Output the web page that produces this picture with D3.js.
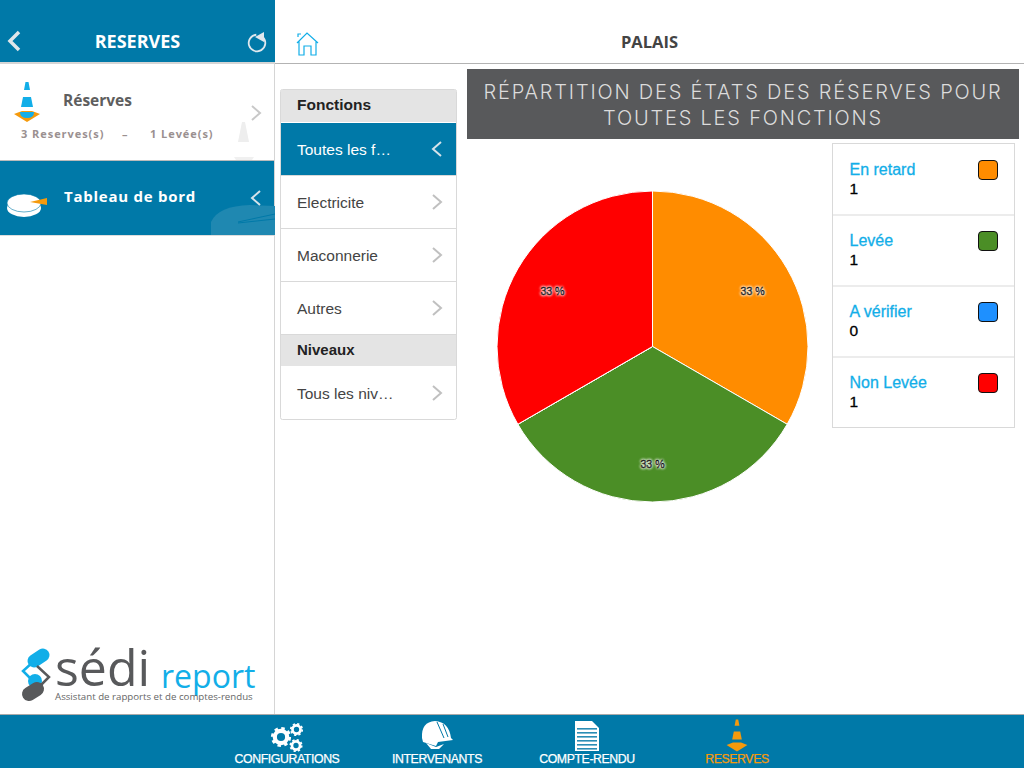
<!DOCTYPE html>
<html>
<head>
<meta charset="utf-8">
<script src="https://cdn.jsdelivr.net/npm/d3@7"></script>
<style>
body { margin: 0; background: #fff; }
svg { display: block; }
text { font-family: "Liberation Sans", sans-serif; }
.app { font-family: "Open Sans", sans-serif; }
</style>
</head>
<body>
<script>
var w = 1024, h = 768;

// chart values
var states = ["En retard", "Levée", "A vérifier", "Non Levée"];
var counts = [1, 1, 0, 1];
var colors = ["#ff8c00", "#4b8e26", "#1e90ff", "#ff0000"];

var functionItems = ["Toutes les f…", "Electricite", "Maconnerie", "Autres"];
var levelItems = ["Tous les niv…"];
var navLabels = ["CONFIGURATIONS", "INTERVENANTS", "COMPTE-RENDU", "RESERVES"];
var titleLines = ["RÉPARTITION DES ÉTATS DES RÉSERVES POUR", "TOUTES LES FONCTIONS"];

var blue = "#0079a8", cyan = "#12aee8", line = "#d9d9d9", orange = "#f59a0c";

var svg = d3.select("body")
    .append("svg")
    .attr("width", w)
    .attr("height", h);

function rect(x, y, rw, rh, fill) {
    return svg.append("rect").attr("x", x).attr("y", y)
        .attr("width", rw).attr("height", rh).style("fill", fill);
}

function label(str, x, y, size, fill, weight, anchor) {
    return svg.append("text").text(str).attr("x", x).attr("y", y)
        .style("font-size", size + "px").style("fill", fill)
        .style("font-weight", weight || "normal")
        .style("text-anchor", anchor || "start");
}

function chevron(x, y, dir, color, sw) {
    svg.append("path")
        .attr("d", "M" + (x - dir * 4) + "," + (y - 7) + "L" + (x + dir * 4) + "," + y + "L" + (x - dir * 4) + "," + (y + 7))
        .style("fill", "none").style("stroke", color).style("stroke-width", sw || 2);
}

function cone(g, c1, c2, c3) {
    g.append("path").attr("d", "M-13,0L-5,-3L5,-3L13,0L0,8Z").style("fill", c3);
    g.append("path").attr("d", "M-1.5,-32L1.5,-32L3,-24L-3,-24Z").style("fill", c1);
    g.append("path").attr("d", "M-4,-17L4,-17L6,-7L-6,-7Z").style("fill", c1);
    g.append("path").attr("d", "M-7,-2L7,-2Q7,4 0,4Q-7,4 -7,-2Z").style("fill", c2);
}

// sidebar
rect(0, 0, 275, 62, blue);
rect(0, 62, 275, 2, "#d5d5d5");
rect(0, 160, 275, 1, "#bbb");
rect(0, 161, 275, 74, blue);
rect(0, 235, 275, 1, "#ddd");
rect(274, 64, 1, 650, "#d5d5d5");
rect(275, 63, 749, 1, "#b3b3b3");

svg.append("path").attr("d", "M19,32L10,41L19,50").style("fill", "none").style("stroke", "#e0e6ea").style("stroke-width", 3.5);
label("RESERVES", 137.5, 48, 18, "#fff", "bold", "middle").attr("class", "app");
svg.append("path").attr("d", d3.arc()({innerRadius: 7.4, outerRadius: 9.2, startAngle: 0.8, endAngle: 6.2}))
    .attr("transform", "translate(257,43)").style("fill", "#dfe8ee");
svg.append("path").attr("d", "M255,37L264,32L264,42Z").style("fill", "#dfe8ee");

var sideCone = svg.append("g").attr("transform", "translate(27,114)");
cone(sideCone, cyan, cyan, orange);
svg.append("path").attr("d", "M238,142L242,122L245,122L249,142Z").style("fill", "#eee");
svg.append("path").attr("d", "M234,157L254,157L252,160L236,160Z").style("fill", "#f0f0f0");

label("Réserves", 63, 106, 15.5, "#5e5e5e", "bold").attr("class", "app");
label("3 Reserves(s)", 21, 138, 11, "#9a9090", "bold").attr("class", "app").style("letter-spacing", "0.95px");
label("–", 122, 138, 11, "#9a9090", "bold").attr("class", "app");
label("1 Levée(s)", 150, 138, 11, "#9a9090", "bold").attr("class", "app").style("letter-spacing", "0.95px");
chevron(256, 113, 1, "#c8c8c8");

svg.append("path").attr("d", "M211,235L211,222Q218,206 250,205L275,206L275,235Z").style("fill", "#1f88b1");
svg.append("path").attr("d", "M238,222L275,214M238,223L275,219").style("stroke", blue).style("stroke-width", 1);
svg.append("ellipse").attr("cx", 24).attr("cy", 208).attr("rx", 17).attr("ry", 9).style("fill", "#fff");
svg.append("ellipse").attr("cx", 24).attr("cy", 203).attr("rx", 17).attr("ry", 9).style("fill", "#fff").style("stroke", blue).style("stroke-width", 0.6);
svg.append("path").attr("d", "M30,202L47,198L47,205Z").style("fill", orange);
label("Tableau de bord", 64, 202, 15, "#fff", "bold").attr("class", "app").style("letter-spacing", "0.75px");
chevron(256, 198, -1, "#d5e3ea");

// logo
svg.append("path").attr("d", "M33,662L23,671L32,680").style("fill", "none").style("stroke", cyan).style("stroke-width", 2.5);
svg.append("path").attr("d", "M34,661L43,655").style("stroke", cyan).style("stroke-width", 13).style("stroke-linecap", "round");
svg.append("circle").attr("cx", 35).attr("cy", 681).attr("r", 7).style("fill", cyan);
svg.append("path").attr("d", "M37,666L49,677L37,689").style("fill", "none").style("stroke", "#58595b").style("stroke-width", 2.5);
svg.append("path").attr("d", "M29,694L37,689").style("stroke", "#58595b").style("stroke-width", 14).style("stroke-linecap", "round");
label("sédi", 55, 686, 50, "#58595b").style("font-family", "Open Sans");
label("report", 161, 688, 32, cyan).style("font-family", "Open Sans");
label("Assistant de rapports et de comptes-rendus", 55, 700, 9.7, "#666").style("font-family", "Open Sans");

// top bar
label("PALAIS", 649.5, 48, 16.5, "#444", "bold", "middle").attr("class", "app");
svg.append("path").attr("d", "M297,43L307,33L318,43M299,41L299,55L304,55L304,46L311,46L311,55L316,55L316,41M298,37L298,34L301,34")
    .style("fill", "none").style("stroke", cyan).style("stroke-width", 1.2);

// menu panel
svg.append("rect").attr("x", 280.5).attr("y", 89.5).attr("width", 176).attr("height", 330).attr("rx", 2)
    .style("fill", "#fff").style("stroke", line);
rect(281, 90, 175, 32, "#e4e4e4");
rect(281, 335, 175, 31, "#e4e4e4");
label("Fonctions", 297, 110, 15.5, "#222", "bold");
label("Niveaux", 297, 355, 15, "#222", "bold");

var rowY = d3.scaleLinear().domain([0, 1]).range([123, 176]);
functionItems.forEach(function(d, i) {
    var y = rowY(i);
    if (i == 0) rect(281, y, 175, 52, blue);
    rect(281, y + 52, 175, 1, line);
    label(d, 297, y + 32, 15.5, i == 0 ? "#fff" : "#444");
    chevron(437, y + 26, i == 0 ? -1 : 1, i == 0 ? "#d5e3ea" : "#c0c0c0");
});
levelItems.forEach(function(d, i) {
    var y = 367 + i * 53;
    label(d, 297, y + 32, 15.5, "#444");
    chevron(437, y + 26, 1, "#c0c0c0");
});

// chart title
rect(467, 69, 552, 70, "#58595b");
titleLines.forEach(function(d, i) {
    label(d, 743, 99 + i * 25.5, 20, "#dcdcdc", "normal", "middle")
        .style("font-family", "Inter").style("font-weight", 300).style("letter-spacing", "1.8px");
});

// pie
var radius = 155.5;
var pieData = d3.pie().sort(null).value(function(d) { return d; })(counts);
var arc = d3.arc().innerRadius(0).outerRadius(radius);
var labelArc = d3.arc().innerRadius(115.5).outerRadius(115.5);
var total = d3.sum(counts);

var pieG = svg.append("g").attr("transform", "translate(652.5,346.5)");

pieG.selectAll("path")
    .data(pieData)
    .enter()
    .append("path")
    .attr("d", arc)
    .style("fill", function(d, i) { return colors[i]; })
    .style("stroke", "#fff")
    .style("stroke-width", 1);

pieG.selectAll("text")
    .data(pieData.filter(function(d) { return d.value > 0; }))
    .enter()
    .append("text")
    .text(function(d) { return Math.floor(d.value / total * 100) + " %"; })
    .attr("transform", function(d) { return "translate(" + labelArc.centroid(d) + ")"; })
    .attr("dy", "0.55em")
    .style("text-anchor", "middle")
    .style("font-size", "10.5px")
    .style("fill", "#000")
    .style("stroke", "#000")
    .style("stroke-width", 0.4)
    .style("text-shadow", "0 0 3px #fff, 0 0 3px #fff");

// legend
svg.append("rect").attr("x", 832.5).attr("y", 143.5).attr("width", 182).attr("height", 284)
    .style("fill", "#fff").style("stroke", line);

var legendY = d3.scaleBand().domain(states).range([143.5, 427.5]);
states.forEach(function(d, i) {
    var y = legendY(d);
    if (i > 0) rect(833, y, 181, 1, line);
    label(d, 849.5, y + 31.5, 16, cyan).style("stroke", cyan).style("stroke-width", 0.3);
    label(counts[i], 849.5, y + 50.5, 15.5, "#000").style("stroke", "#000").style("stroke-width", 0.3);
    svg.append("rect").attr("x", 978.5).attr("y", y + 17).attr("width", 19).attr("height", 19).attr("rx", 3.5)
        .style("fill", colors[i]).style("stroke", "#111");
});

// bottom nav
rect(0, 714, w, 1, "#aaa");
rect(0, 715, w, 53, blue);
var navX = d3.scalePoint().domain(navLabels).range([287, 737]);
navLabels.forEach(function(d, i) {
    label(d, navX(d), 763, 12.3, i == 3 ? orange : "#fff", "normal", "middle")
        .style("letter-spacing", "-0.4px").style("stroke", i == 3 ? orange : "#fff").style("stroke-width", 0.25);
});

function gear(x, y, r) {
    svg.append("circle").attr("cx", x).attr("cy", y).attr("r", r * 0.62)
        .style("fill", "none").style("stroke", "#fff").style("stroke-width", r * 0.42);
    svg.append("circle").attr("cx", x).attr("cy", y).attr("r", r * 0.88)
        .style("fill", "none").style("stroke", "#fff").style("stroke-width", r * 0.26)
        .style("stroke-dasharray", (r * 0.88 * Math.PI / 8) + " " + (r * 0.88 * Math.PI / 8));
}
gear(281, 737, 10);
gear(296.5, 729.5, 6.5);
gear(296, 745.5, 6.5);

svg.append("path").attr("d", "M422,738Q421,722 435,721Q449,722 451,738L453,740L438,742L436,746L423,742Z").style("fill", "#fff");
svg.append("path").attr("d", "M426,743L436,747L444,744L439,749L431,749Z").style("fill", "#fff");
svg.append("path").attr("d", "M437,722L444,738M443,724L448,737").style("stroke", blue).style("fill", "none");

svg.append("path").attr("d", "M575,721L592,721L599,728L599,751L575,751Z").style("fill", "#fff");
[728, 732, 736, 740, 744, 748].forEach(function(y) { rect(577, y, 20, 1.6, "#2a8db5"); });

var navCone = svg.append("g").attr("transform", "translate(737,745) scale(0.8)");
cone(navCone, orange, orange, orange);
</script>
</body>
</html>
